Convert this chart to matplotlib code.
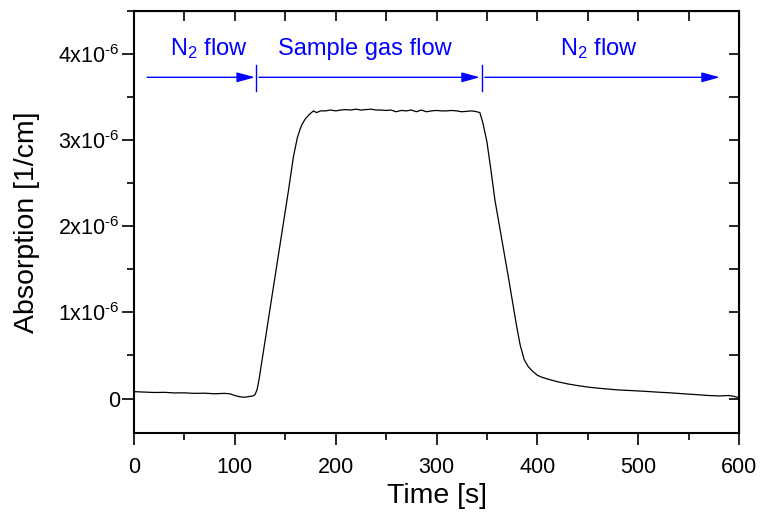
import numpy as np
import matplotlib
matplotlib.use("Agg")
import matplotlib.pyplot as plt
from matplotlib.ticker import MultipleLocator, FuncFormatter

# trace (absorption in 1e-6 1/cm)
time_s = [0, 10, 20, 30, 40, 50, 60, 70, 80, 90, 95, 100, 105, 110, 115, 118,
          120, 122, 124, 130, 137, 145, 153, 158, 162, 166, 170, 174, 178, 181,
          185, 190, 195, 200, 205, 210, 215, 220, 225, 230, 235, 240, 245, 250,
          255, 260, 265, 270, 275, 280, 285, 290, 295, 300, 305, 310, 315, 320,
          325, 330, 335, 340, 343, 346, 350, 354, 358, 365, 372, 379, 383, 387,
          391, 395, 400, 405, 412, 420, 430, 440, 452, 465, 480, 492, 505, 518,
          532, 545, 558, 570, 580, 590, 595, 600]
absorb_e6 = [0.08, 0.075, 0.07, 0.072, 0.065, 0.066, 0.06, 0.062, 0.055, 0.06,
             0.055, 0.035, 0.02, 0.015, 0.025, 0.03, 0.045, 0.10, 0.22, 0.67,
             1.20, 1.80, 2.40, 2.80, 3.03, 3.17, 3.25, 3.30, 3.34, 3.32, 3.34,
             3.34, 3.35, 3.34, 3.35, 3.355, 3.35, 3.36, 3.35, 3.355, 3.36, 3.35,
             3.35, 3.345, 3.35, 3.33, 3.345, 3.34, 3.35, 3.33, 3.35, 3.33, 3.34,
             3.345, 3.34, 3.34, 3.345, 3.34, 3.33, 3.335, 3.34, 3.33, 3.32, 3.20,
             2.98, 2.65, 2.30, 1.83, 1.36, 0.87, 0.62, 0.45, 0.37, 0.32, 0.27,
             0.245, 0.22, 0.195, 0.17, 0.15, 0.13, 0.115, 0.10, 0.093, 0.085,
             0.075, 0.066, 0.055, 0.045, 0.035, 0.03, 0.035, 0.025, 0.01]

# flow phases: label, arrow start, arrow end, label centre
phase_labels = ["N$_2$ flow", "Sample gas flow", "N$_2$ flow"]
phase_start = [13, 124, 348]
phase_end = [120, 343, 581]
label_x = [74, 229, 461]
switch_times = [121, 345]

plt.rcParams.update({
    "font.family": ["Liberation Sans", "DejaVu Sans"],
    "mathtext.fontset": "custom",
    "mathtext.rm": "Liberation Sans",
    "mathtext.it": "Liberation Sans:italic",
    "mathtext.bf": "Liberation Sans:bold",
})

BLUE = "#0000ff"

fig = plt.figure(figsize=(7.6, 5.16), dpi=100)
ax = fig.add_axes([0.1763, 0.1609, 0.7961, 0.8178])

t = np.array(time_s)
a = np.array(absorb_e6) * 1e-6
ax.plot(t, a, color="black", lw=0.9)

# phase arrows and labels
arrow_y = 3.73e-6
for lab, x0, x1, xl in zip(phase_labels, phase_start, phase_end, label_x):
    ax.annotate("", xy=(x1, arrow_y), xytext=(x0, arrow_y),
                arrowprops=dict(arrowstyle="-|>,head_length=1.1,head_width=0.3",
                                color=BLUE, lw=1.0, mutation_scale=10,
                                shrinkA=0, shrinkB=0))
    ax.text(xl, 3.99e-6, lab, color=BLUE, ha="center", va="baseline",
            fontsize=17)
for xs in switch_times:
    ax.plot([xs, xs], [3.57e-6, 3.87e-6], color=BLUE, lw=1.0)

ax.set_xlim(0, 600)
ax.set_ylim(-0.4e-6, 4.5e-6)

ax.xaxis.set_major_locator(MultipleLocator(100))
ax.xaxis.set_minor_locator(MultipleLocator(50))
ax.yaxis.set_major_locator(MultipleLocator(1e-6))
ax.yaxis.set_minor_locator(MultipleLocator(0.5e-6))

def ylab(v, pos):
    n = int(round(v * 1e6))
    return "0" if n == 0 else f"{n}x10$^{{\\text{{-}}6}}$"

ax.yaxis.set_major_formatter(FuncFormatter(ylab))

ax.tick_params(which="major", direction="out", length=8.5, width=1.2,
               labelsize=15.5)
ax.tick_params(axis="x", which="major", pad=8.5)
ax.tick_params(axis="y", which="major", pad=1.5)
ax.tick_params(which="minor", direction="out", length=5, width=1.2)
for s in ax.spines.values():
    s.set_linewidth(1.5)

# mirrored inward ticks on top and right
top = ax.secondary_xaxis("top")
top.set_xticks(np.arange(0, 601, 50))
top.tick_params(direction="in", length=7.5, width=1.2, labeltop=False)
right = ax.secondary_yaxis("right")
right.set_yticks(np.arange(-0.0, 4.51e-6, 0.5e-6))
right.tick_params(direction="in", length=7.5, width=1.2, labelright=False)

ax.set_xlabel("Time [s]", fontsize=20.5, labelpad=4)
ax.set_ylabel("Absorption [1/cm]", fontsize=20.5)
ax.yaxis.set_label_coords(-0.155, 0.5)

fig.savefig("out.png", dpi=100)
